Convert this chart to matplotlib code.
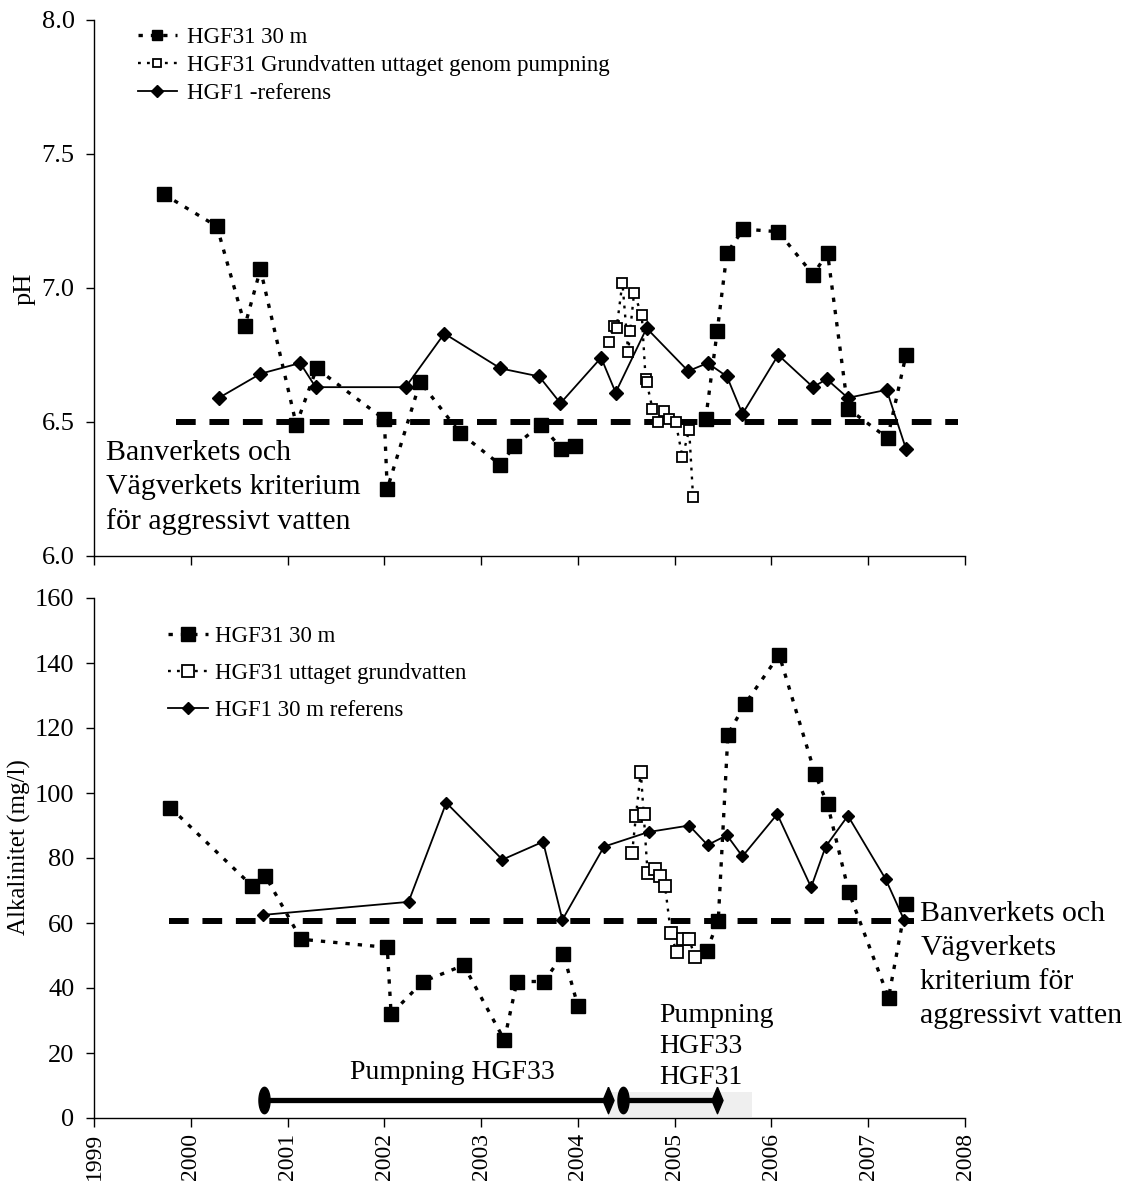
import numpy as np
import matplotlib
matplotlib.use('Agg')
import matplotlib.pyplot as plt
from matplotlib.patches import Rectangle

plt.rcParams['font.family'] = ['Liberation Serif', 'DejaVu Serif']

# ---------------- data ----------------
years = list(range(1999, 2009))
year_labels = [str(y) for y in years]

# pH panel
ph_hgf31_t = [1999.72, 2000.27, 2000.56, 2000.72, 2001.09, 2001.30, 2002.00, 2002.03,
              2002.37, 2002.78, 2003.20, 2003.34, 2003.62, 2003.83, 2003.97, np.nan,
              2005.32, 2005.44, 2005.54, 2005.71, 2006.07, 2006.43, 2006.58, 2006.79,
              2007.20, 2007.39]
ph_hgf31 = [7.35, 7.23, 6.86, 7.07, 6.49, 6.70, 6.51, 6.25,
            6.65, 6.46, 6.34, 6.41, 6.49, 6.40, 6.41, np.nan,
            6.51, 6.84, 7.13, 7.22, 7.21, 7.05, 7.13, 6.55,
            6.44, 6.75]

ph_pump_t = [2004.32, 2004.37, 2004.40, 2004.46, 2004.52, 2004.54, 2004.58, 2004.66,
             2004.70, 2004.71, 2004.77, 2004.83, 2004.89, 2004.94, 2005.01, 2005.08,
             2005.15, 2005.19]
ph_pump = [6.80, 6.86, 6.85, 7.02, 6.76, 6.84, 6.98, 6.90,
           6.66, 6.65, 6.55, 6.50, 6.54, 6.51, 6.50, 6.37,
           6.47, 6.22]

ph_ref_t = [2000.29, 2000.72, 2001.13, 2001.29, 2002.22, 2002.62, 2003.20, 2003.60,
            2003.82, 2004.24, 2004.39, 2004.71, 2005.14, 2005.34, 2005.54, 2005.70,
            2006.07, 2006.43, 2006.57, 2006.79, 2007.19, 2007.39]
ph_ref = [6.59, 6.68, 6.72, 6.63, 6.63, 6.83, 6.70, 6.67,
          6.57, 6.74, 6.61, 6.85, 6.69, 6.72, 6.67, 6.53,
          6.75, 6.63, 6.66, 6.59, 6.62, 6.40]

ph_criterion = 6.5

# Alkalinity panel
alk_hgf31_t = [1999.79, 2000.63, 2000.77, 2001.14, 2002.03, 2002.07, 2002.40, 2002.82,
               2003.24, 2003.37, 2003.65, 2003.85, 2004.00, np.nan,
               2005.33, 2005.45, 2005.55, 2005.73, 2006.08, 2006.45, 2006.58, 2006.80,
               2007.21, 2007.39]
alk_hgf31 = [95.5, 71.5, 74.5, 55.0, 52.5, 32.0, 42.0, 47.0,
             24.0, 42.0, 42.0, 50.5, 34.5, np.nan,
             51.5, 60.5, 118.0, 127.5, 142.5, 106.0, 96.5, 69.5,
             37.0, 66.0]

alk_pump_t = [2004.56, 2004.60, 2004.65, 2004.68, 2004.72, 2004.80, 2004.85, 2004.90,
              2004.96, 2005.02, 2005.09, 2005.15, 2005.21]
alk_pump = [81.5, 93.0, 106.5, 93.5, 75.5, 76.5, 74.5, 71.5,
            57.0, 51.0, 55.0, 55.0, 49.5]

alk_ref_t = [2000.75, 2002.25, 2002.64, 2003.22, 2003.64, 2003.84, 2004.27, 2004.73,
             2005.15, 2005.34, 2005.54, 2005.70, 2006.06, 2006.41, 2006.56, 2006.79,
             2007.18, 2007.37]
alk_ref = [62.5, 66.5, 97.0, 79.5, 85.0, 61.0, 83.5, 88.0,
           90.0, 84.0, 87.0, 80.5, 93.5, 71.0, 83.5, 93.0,
           73.5, 61.0]

alk_criterion = 60.5

pump_start = [2000.76, 2004.47]
pump_end = [2004.31, 2005.44]
pump_level = 5.5
pump_band = [2004.31, 2005.80]
pump_band_y = [0.4, 8.1]

# ---------------- figure ----------------
W, H = 1136, 1187
fig = plt.figure(figsize=(W / 100, H / 100), dpi=100)
ax1 = fig.add_axes([94 / W, 1 - 556 / H, 871 / W, 536 / H])
ax2 = fig.add_axes([94 / W, 1 - 1118 / H, 871 / W, 520 / H])

# custom markers for pumping periods
th = np.linspace(0, 2 * np.pi, 60)
ell_marker = list(zip(0.42 * np.cos(th), np.sin(th)))
dia_marker = [(0, 1), (0.42, 0), (0, -1), (-0.42, 0), (0, 1)]


def style_axes(ax):
    for s in ['top', 'right']:
        ax.spines[s].set_visible(False)
    for s in ['left', 'bottom']:
        ax.spines[s].set_linewidth(1.0)
    ax.set_xlim(1999, 2008)
    ax.set_xticks(years)
    ax.tick_params(axis='y', direction='out', length=6, width=1, labelsize=19, pad=8)
    ax.tick_params(axis='x', direction='out', length=6.5, width=1, labelsize=17, pad=4)


# ---- top panel: pH ----
style_axes(ax1)
ax1.set_ylim(6.0, 8.0)
ax1.set_yticks([6.0, 6.5, 7.0, 7.5, 8.0])
ax1.set_yticklabels(['6.0', '6.5', '7.0', '7.5', '8.0'])
ax1.set_xticklabels([])

ax1.plot([1999.85, 2007.93], [ph_criterion, ph_criterion], color='black', lw=4.3,
         dashes=(3.3, 2.3), zorder=2)
l1, = ax1.plot(ph_hgf31_t, ph_hgf31, color='black', lw=2.4, dashes=(1.3, 2.4),
               marker='s', ms=10, mfc='black', mec='black', zorder=4,
               label='HGF31 30 m')
l2, = ax1.plot(ph_pump_t, ph_pump, color='black', lw=1.7, dashes=(1.2, 2.6),
               marker='s', ms=7.5, mfc='white', mec='black', mew=1.3, zorder=5,
               label='HGF31 Grundvatten uttaget genom pumpning')
l3, = ax1.plot(ph_ref_t, ph_ref, color='black', lw=1.3, marker='D', ms=7.5,
               mfc='black', mec='black', zorder=3, label='HGF1 -referens')

leg1 = ax1.legend(handles=[l1, l2, l3], loc='upper left', frameon=False,
                  bbox_to_anchor=(138 / W, 1 - 27 / H), bbox_transform=fig.transFigure,
                  fontsize=16.5, handlelength=1.7, handletextpad=0.45, labelspacing=0.3,
                  borderpad=0, borderaxespad=0, markerscale=0.75)

ax1.text(1999.12, 6.255, 'Banverkets och\nVägverkets kriterium\nför aggressivt vatten',
         fontsize=21.5, ha='left', va='center', linespacing=1.4)

fig.text(25 / W, 1 - 289 / H, 'pH', rotation=90, ha='center', va='center', fontsize=19)

# ---- bottom panel: alkalinity ----
style_axes(ax2)
ax2.set_ylim(0, 160)
ax2.set_yticks(range(0, 161, 20))
ax2.set_xticklabels(year_labels, rotation=90)

ax2.add_patch(Rectangle((pump_band[0], pump_band_y[0]), pump_band[1] - pump_band[0],
                        pump_band_y[1] - pump_band_y[0], facecolor='#efefef',
                        edgecolor='none', zorder=1))

ax2.plot([1999.77, 2007.47], [alk_criterion, alk_criterion], color='black', lw=4.3,
         dashes=(3.3, 2.3), zorder=2)
m1, = ax2.plot(alk_hgf31_t, alk_hgf31, color='black', lw=2.4, dashes=(1.3, 2.4),
               marker='s', ms=10.5, mfc='black', mec='black', zorder=4,
               label='HGF31 30 m')
m2, = ax2.plot(alk_pump_t, alk_pump, color='black', lw=1.7, dashes=(1.2, 2.6),
               marker='s', ms=8.5, mfc='white', mec='black', mew=1.3, zorder=5,
               label='HGF31 uttaget grundvatten')
m3, = ax2.plot(alk_ref_t, alk_ref, color='black', lw=1.3, marker='D', ms=6.5,
               mfc='black', mec='black', zorder=3, label='HGF1 30 m referens')

for s, e in zip(pump_start, pump_end):
    ax2.plot([s, e], [pump_level, pump_level], color='black', lw=3.8,
             solid_capstyle='butt', zorder=3)
    ax2.plot([s], [pump_level], marker=ell_marker, ms=19, color='black',
             linestyle='none', zorder=4)
    ax2.plot([e], [pump_level], marker=dia_marker, ms=19, color='black',
             linestyle='none', zorder=4)

leg2 = ax2.legend(handles=[m1, m2, m3], loc='upper left', frameon=False,
                  bbox_to_anchor=(168 / W, 1 - 626 / H), bbox_transform=fig.transFigure,
                  fontsize=16.5, handlelength=1.75, handletextpad=0.3, labelspacing=0.7,
                  borderpad=0, borderaxespad=0, markerscale=1.0)

ax2.text(2002.70, 14.0, 'Pumpning HGF33', fontsize=20, ha='center', va='center')
ax2.text(2004.84, 22.0, 'Pumpning\nHGF33\nHGF31', fontsize=20, ha='left', va='center',
         linespacing=1.3)
ax2.text(2007.54, 47.0, 'Banverkets och\nVägverkets\nkriterium för\naggressivt vatten',
         fontsize=21.5, ha='left', va='center', linespacing=1.4, clip_on=False)

fig.text(19 / W, 1 - 847 / H, 'Alkalinitet (mg/l)', rotation=90, ha='center',
         va='center', fontsize=18)

fig.savefig('out.png', dpi=100)
